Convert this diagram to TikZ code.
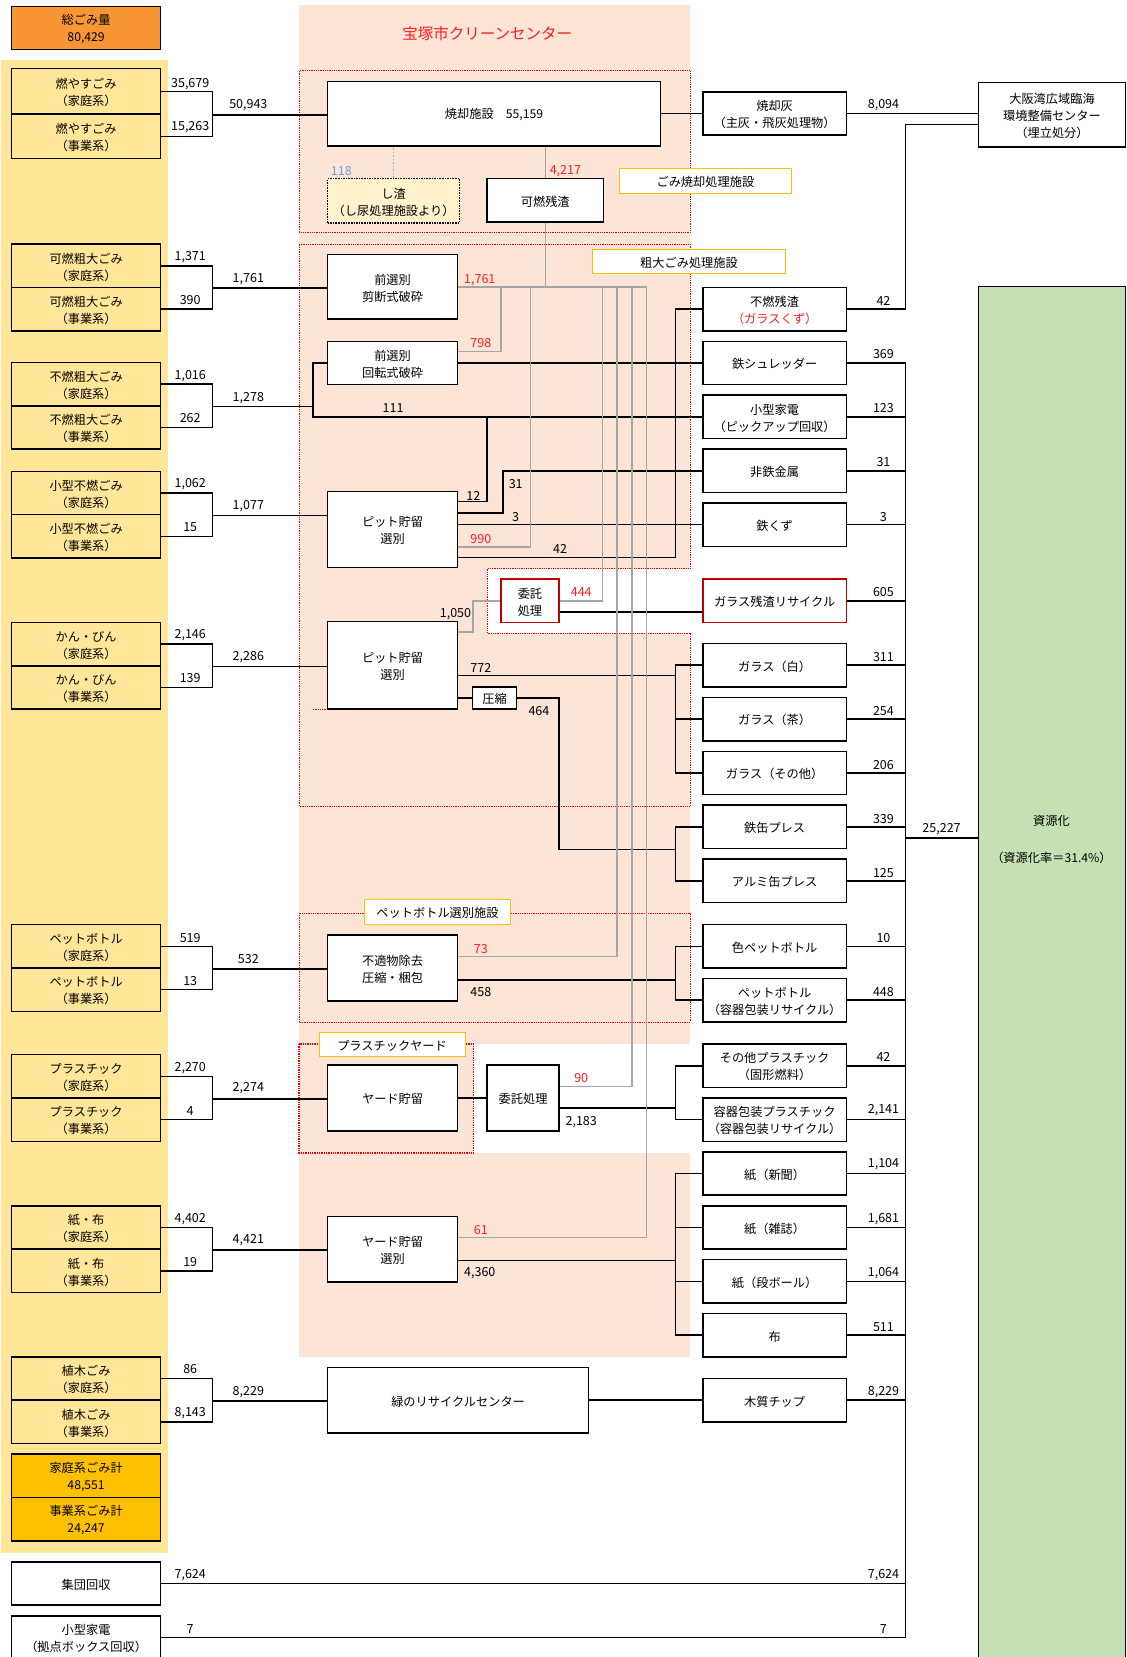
\documentclass[tikz,border=0pt]{standalone}
\usepackage{fontspec}
\setmainfont{Noto Sans CJK JP}
\usetikzlibrary{fit}
\definecolor{band}{RGB}{255,230,153}
\definecolor{tot}{RGB}{247,150,51}
\definecolor{subt}{RGB}{255,192,0}
\definecolor{pinkbg}{RGB}{252,228,214}
\definecolor{shizan}{RGB}{255,242,204}
\definecolor{greenbox}{RGB}{197,224,180}
\definecolor{lblborder}{RGB}{255,192,0}
\definecolor{grayln}{RGB}{166,166,166}
\definecolor{bluenum}{RGB}{108,160,220}
\definecolor{rednum}{RGB}{255,30,30}
\definecolor{darkred}{RGB}{192,0,0}
\newcommand\mybx[7][]{\node[box,#1,fit={(#3,#4)(#5,#6)}] (#2) {};
  \node[btxt] (#2t) at (#2.center) {#7};}
\newcommand\mybrk[3]{%
  \draw[ln] (#1.east) -| (#2.east -| bxk) -- (#2.east);
  \draw[ln] (#1.south east -| bxk) -- (#1.south east -| #3.west);}
\begin{document}
\begin{tikzpicture}[x=1.0563pt,y=-1.0563pt,
  font=\fontsize{12.2}{17}\selectfont,
  box/.style={draw=black,line width=1.6pt,fill=white,inner sep=0pt},
  btxt/.style={align=center,inner sep=0pt,yshift=-1.2pt},
  ybox/.style={fill=band},
  lbl/.style={draw=lblborder,line width=0.9pt},
  ln/.style={line width=1.5pt,black},
  gln/.style={line width=1.5pt,grayln},
  num/.style={inner sep=0pt,yshift=-2pt,font=\fontsize{12.5}{14}\selectfont},
  rnum/.style={num,text=rednum},
  reddot/.style={red,densely dotted,line width=0.8pt}]
\useasboundingbox (0,0) rectangle (1066,1568);
% ---------- backgrounds
\fill[band] (1,57) rectangle (159,1470);
\fill[pinkbg] (283,5) rectangle (653,988);
\fill[pinkbg] (283,988) rectangle (448,1091);
\fill[pinkbg] (283,1091) rectangle (653,1284);
\fill[white] (461,538) rectangle (653,599);
\draw[reddot] (283,67) rectangle (653,220);
\draw[reddot] (283,231) -- (653,231) -- (653,538) -- (461,538) -- (461,599) -- (653,599) -- (653,763) -- (283,763) -- cycle;
\draw[reddot] (283,864) rectangle (653,967);
\draw[reddot,line width=1.3pt] (283,988) rectangle (448,1091);
\draw[reddot] (296,671) -- (310,671);
\node[text=rednum,font=\fontsize{15.5}{17}\selectfont] (title) at (461,32) {宝塚市クリーンセンター};
% ---------- helper coordinates
\coordinate (bxk) at (201,0);
\coordinate (bxr) at (639,0);
\coordinate (colx) at (857,0);
\coordinate (os2) at (926,118);
\coordinate (j3) at (296,384);
\coordinate (c12) at (460.7,394.5);
\coordinate (c464) at (529,803.7);
\coordinate (c25) at (857,793);
\coordinate (g1) at (570,271.5);
\coordinate (g2) at (584,271.5);
\coordinate (g3) at (598,271.5);
\coordinate (g4) at (612,271.5);
\coordinate (b798) at (474.3,271.5);
\coordinate (b990) at (501.8,271.5);
% ---------- left column
\mybx[fill=tot]{L0}{11}{6}{152}{47}{総ごみ量\\80,429}
\mybx[ybox]{L1a}{11}{65}{152}{108}{燃やすごみ\\（家庭系）}
\mybx[ybox]{L1b}{11}{108}{152}{150}{燃やすごみ\\（事業系）}
\mybx[ybox]{L2a}{11}{231}{152}{272}{可燃粗大ごみ\\（家庭系）}
\mybx[ybox]{L2b}{11}{272}{152}{313}{可燃粗大ごみ\\（事業系）}
\mybx[ybox]{L3a}{11}{343}{152}{384}{不燃粗大ごみ\\（家庭系）}
\mybx[ybox]{L3b}{11}{384}{152}{425}{不燃粗大ごみ\\（事業系）}
\mybx[ybox]{L4a}{11}{446}{152}{487}{小型不燃ごみ\\（家庭系）}
\mybx[ybox]{L4b}{11}{487}{152}{528}{小型不燃ごみ\\（事業系）}
\mybx[ybox]{L5a}{11}{589}{152}{630}{かん・びん\\（家庭系）}
\mybx[ybox]{L5b}{11}{630}{152}{671}{かん・びん\\（事業系）}
\mybx[ybox]{L6a}{11}{875}{152}{916}{ペットボトル\\（家庭系）}
\mybx[ybox]{L6b}{11}{916}{152}{957}{ペットボトル\\（事業系）}
\mybx[ybox]{L7a}{11}{998}{152}{1039}{プラスチック\\（家庭系）}
\mybx[ybox]{L7b}{11}{1039}{152}{1080}{プラスチック\\（事業系）}
\mybx[ybox]{L8a}{11}{1141}{152}{1182}{紙・布\\（家庭系）}
\mybx[ybox]{L8b}{11}{1182}{152}{1223}{紙・布\\（事業系）}
\mybx[ybox]{L9a}{11}{1284}{152}{1325}{植木ごみ\\（家庭系）}
\mybx[ybox]{L9b}{11}{1325}{152}{1366}{植木ごみ\\（事業系）}
\mybx[fill=subt]{LT1}{11}{1376}{152}{1417}{家庭系ごみ計\\48,551}
\mybx[fill=subt]{LT2}{11}{1417}{152}{1458}{事業系ごみ計\\24,247}
\mybx{LG}{11}{1478}{152}{1519}{集団回収}
\mybx{LS}{11}{1529}{152}{1570}{小型家電\\（拠点ボックス回収）}
% ---------- centre boxes
\mybx{INC}{310}{77}{625}{138}{焼却施設　55,159}
\mybx[fill=shizan,densely dotted,line width=1.2pt]{SZ}{310}{169}{435}{211}{し渣\\（し尿処理施設より）}
\mybx{KZ}{461}{169}{571}{210}{可燃残渣}
\mybx{P1}{310}{241}{433}{302}{前選別\\剪断式破砕}
\mybx{P2}{310}{323}{433}{364}{前選別\\回転式破砕}
\mybx{P3}{310}{465}{433}{537}{ピット貯留\\選別}
\mybx[draw=darkred]{I1}{474}{548}{529}{589}{委託\\処理}
\mybx{P4}{310}{588}{433}{671}{ピット貯留\\選別}
\mybx[line width=1.4pt]{CP}{447}{650}{489}{671}{圧縮}
\mybx{P5}{310}{885}{433}{947}{不適物除去\\圧縮・梱包}
\mybx{P6}{310}{1008}{433}{1070}{ヤード貯留}
\mybx{I2}{461}{1008}{529}{1070}{委託処理}
\mybx{P7}{310}{1151}{433}{1213}{ヤード貯留\\選別}
\mybx{GR}{310}{1294}{557}{1356}{緑のリサイクルセンター}
% ---------- right boxes
\mybx{R0}{665}{87}{801}{128}{焼却灰\\（主灰・飛灰処理物）}
\mybx{OS}{926}{78}{1065}{139}{大阪湾広域臨海\\環境整備センター\\（埋立処分）}
\node[box,fill=greenbox,fit={(926,271)(1065,1585)}] (GRN) {};
\mybx{R1}{665}{272}{801}{313}{不燃残渣\\{\color{rednum}（ガラスくず）}}
\mybx{R2}{665}{323}{801}{364}{鉄シュレッダー}
\mybx{R3}{665}{374}{801}{415}{小型家電\\（ピックアップ回収）}
\mybx{R4}{665}{425}{801}{466}{非鉄金属}
\mybx{R5}{665}{476}{801}{517}{鉄くず}
\mybx[draw=darkred]{R6}{665}{548}{801}{589}{ガラス残渣リサイクル}
\mybx{R7}{665}{609}{801}{650}{ガラス（白）}
\mybx{R8}{665}{660}{801}{701}{ガラス（茶）}
\mybx{R9}{665}{711}{801}{752}{ガラス（その他）}
\mybx{R10}{665}{762}{801}{803}{鉄缶プレス}
\mybx{R11}{665}{813}{801}{854}{アルミ缶プレス}
\mybx{R12}{665}{875}{801}{916}{色ペットボトル}
\mybx{R13}{665}{926}{801}{967}{ペットボトル\\（容器包装リサイクル）}
\mybx{R14}{665}{988}{801}{1029}{その他プラスチック\\（固形燃料）}
\mybx{R15}{665}{1039}{801}{1080}{容器包装プラスチック\\（容器包装リサイクル）}
\mybx{R16}{665}{1090}{801}{1131}{紙（新聞）}
\mybx{R17}{665}{1141}{801}{1182}{紙（雑誌）}
\mybx{R18}{665}{1192}{801}{1233}{紙（段ボール）}
\mybx{R19}{665}{1243}{801}{1284}{布}
\mybx{R20}{665}{1304.5}{801}{1345.5}{木質チップ}
\node (gt1) at (995,777) {資源化};
\node (gt2) at (995,812) {（資源化率＝31.4\%）};
% ---------- facility labels
\mybx[lbl]{lb1}{586}{159}{749}{183}{ごみ焼却処理施設}
\mybx[lbl]{lb2}{561}{236}{743}{259}{粗大ごみ処理施設}
\mybx[lbl]{lb3}{345}{851}{483}{875}{ペットボトル選別施設}
\mybx[lbl]{lb4}{302}{977}{440}{1000}{プラスチックヤード}
% ---------- black connectors
\mybrk{L1a}{L1b}{INC}
\mybrk{L2a}{L2b}{P1}
\draw[ln] (L3a.east) -| (L3b.east -| bxk) -- (L3b.east);
\draw[ln] (L3a.south east -| bxk) -- (L3a.south east -| j3);
\mybrk{L4a}{L4b}{P3}
\mybrk{L5a}{L5b}{P4}
\mybrk{L6a}{L6b}{P5}
\mybrk{L7a}{L7b}{P6}
\mybrk{L8a}{L8b}{P7}
\mybrk{L9a}{L9b}{GR}
\draw[ln] (INC.east) -- (R0.west);
\draw[ln] (R0.east) -- (R0.east -| OS.west);
\draw[ln] (R1.east) -| (os2 -| colx) -- (os2);
\draw[ln] (P2.east) -- (R2.west);
\draw[ln] (P2.west) -| (R3.west -| j3) -- (R3.west);
\draw[ln] (P3.north east) ++(0,10.5) -| (c12);
\draw[ln] (P3.north east) ++(0,21) -- ++(42,0) |- (R4.west);
\draw[ln] (R5.west) -- (R5.west -| P3.east);
\draw[ln] (P3.south east) ++(0,-10) -| (R1.west -| bxr) -- (R1.west);
\draw[ln] (I1.south east) ++(0,-10.6) coordinate (t605) -- (t605 -| R6.west);
\draw[ln] (P4.north east) ++(0,52) coordinate (t772) -- (t772 -| bxr);
\draw[ln] (R7.west) -| (R9.west -| bxr) -- (R9.west);
\draw[ln] (R8.west) -- (R8.west -| bxr);
\draw[ln] (CP.west) -- (CP.west -| P4.east);
\draw[ln] (CP.east) -| (c464) -- (c464 -| bxr);
\draw[ln] (R10.west) -| (R11.west -| bxr) -- (R11.west);
\draw[ln] (P5.south east) ++(0,-20.5) coordinate (t458) -- (t458 -| bxr);
\draw[ln] (R12.west) -| (R13.west -| bxr) -- (R13.west);
\draw[ln] (P6.east) -- (I2.west);
\draw[ln] (I2.north east) ++(0,41) coordinate (t2183) -- (t2183 -| bxr);
\draw[ln] (R14.west) -| (R15.west -| bxr) -- (R15.west);
\draw[ln] (P7.south east) ++(0,-21) coordinate (t4360) -- (t4360 -| bxr);
\draw[ln] (R16.west) -| (R19.west -| bxr) -- (R19.west);
\draw[ln] (R17.west) -- (R17.west -| bxr);
\draw[ln] (R18.west) -- (R18.west -| bxr);
\draw[ln] (GR.east) -- (R20.west);
\draw[ln] (LG.east) -- (LG.east -| colx);
\draw[ln] (LS.east) -- (LS.east -| colx);
\foreach \r in {R2,R3,R4,R5,R6,R7,R8,R9,R10,R11,R12,R13,R14,R15,R16,R17,R18,R19,R20}
  \draw[ln] (\r.east) -- (\r.east -| colx);
\draw[ln] (R2.east -| colx) -- (LS.east -| colx);
\draw[ln] (c25) -- (c25 -| GRN.west);
% ---------- grey connectors
\draw[gln,dotted] (SZ.north) -- (SZ.north |- INC.south);
\draw[gln] (KZ.north) -- (KZ.north |- INC.south);
\draw[gln] (KZ.south) -- (KZ.south |- P1.east);
\draw[gln] (P1.east) -- (g4);
\draw[gln] (P2.north east) ++(0,10.3) -| (b798);
\draw[gln] (P3.south east) ++(0,-20) -| (b990);
\draw[gln] (g1) |- (I1.east);
\draw[gln] (P5.north east) ++(0,20.7) -| (g2);
\draw[gln] (I2.north east) ++(0,20.8) -| (g3);
\draw[gln] (P7.north east) ++(0,20.7) -| (g4);
\draw[gln] (P4.north east) ++(0,11) -- ++(14,0) |- (I1.west);
% ---------- numbers left
\node[num] (a1) at (180,78) {35,679};
\node[num] (a2) at (180,118) {15,263};
\node[num] (a3) at (180,241) {1,371};
\node[num] (a4) at (180,282) {390};
\node[num] (a5) at (180,354) {1,016};
\node[num] (a6) at (180,394) {262};
\node[num] (a7) at (180,456) {1,062};
\node[num] (a8) at (180,497) {15};
\node[num] (a9) at (180,599) {2,146};
\node[num] (a10) at (180,640) {139};
\node[num] (a11) at (180,886) {519};
\node[num] (a12) at (180,926) {13};
\node[num] (a13) at (180,1009) {2,270};
\node[num] (a14) at (180,1049) {4};
\node[num] (a15) at (180,1152) {4,402};
\node[num] (a16) at (180,1192) {19};
\node[num] (a17) at (180,1294) {86};
\node[num] (a18) at (180,1335) {8,143};
\node[num] (a19) at (180,1489) {7,624};
\node[num] (a20) at (180,1540) {7};
% mid
\node[num] (m1) at (235,98) {50,943};
\node[num] (m2) at (235,262) {1,761};
\node[num] (m3) at (235,375) {1,278};
\node[num] (m4) at (235,477) {1,077};
\node[num] (m5) at (235,620) {2,286};
\node[num] (m6) at (235,906) {532};
\node[num] (m7) at (235,1028) {2,274};
\node[num] (m8) at (235,1172) {4,421};
\node[num] (m9) at (235,1315) {8,229};
% right
\node[num] (r0) at (836,98) {8,094};
\node[num] (r1) at (836,283) {42};
\node[num] (r2) at (836,333) {369};
\node[num] (r3) at (836,384) {123};
\node[num] (r4) at (836,435) {31};
\node[num] (r5) at (836,487) {3};
\node[num] (r6) at (836,558) {605};
\node[num] (r7) at (836,620) {311};
\node[num] (r8) at (836,671) {254};
\node[num] (r9) at (836,722) {206};
\node[num] (r10) at (836,773) {339};
\node[num] (r11) at (836,824) {125};
\node[num] (r12) at (836,886) {10};
\node[num] (r13) at (836,937) {448};
\node[num] (r14) at (836,998) {42};
\node[num] (r15) at (836,1049) {2,141};
\node[num] (r16) at (836,1100) {1,104};
\node[num] (r17) at (836,1152) {1,681};
\node[num] (r18) at (836,1203) {1,064};
\node[num] (r19) at (836,1254) {511};
\node[num] (r20) at (836,1315) {8,229};
\node[num] (r21) at (836,1489) {7,624};
\node[num] (r22) at (836,1540) {7};
\node[num] (r23) at (891,783) {25,227};
% centre
\node[num,text=bluenum] (c1) at (323,160) {118};
\node[rnum] (c2) at (535,160) {4,217};
\node[rnum] (c3) at (454,263) {1,761};
\node[rnum] (c4) at (455,323) {798};
\node[num] (c5) at (372,384) {111};
\node[num] (c6) at (448,467) {12};
\node[num] (c7) at (488,456) {31};
\node[num] (c8) at (488,487) {3};
\node[rnum] (c9) at (455,508) {990};
\node[num] (c10) at (530,518) {42};
\node[num] (c11) at (431,579) {1,050};
\node[rnum] (c12n) at (550,558) {444};
\node[num] (c13) at (455,630) {772};
\node[num] (c14) at (510,671) {464};
\node[rnum] (c15) at (455,896) {73};
\node[num] (c16) at (455,937) {458};
\node[rnum] (c17) at (550,1018) {90};
\node[num] (c18) at (550,1060) {2,183};
\node[rnum] (c19) at (455,1162) {61};
\node[num] (c20) at (454,1203) {4,360};
\end{tikzpicture}
\end{document}
